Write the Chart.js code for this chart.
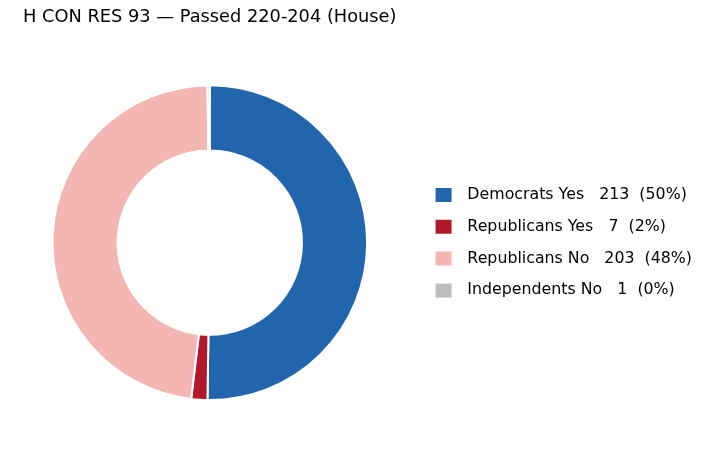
<!DOCTYPE html>
<html>
<head>
<meta charset="utf-8">
<script src="https://cdn.jsdelivr.net/npm/chart.js@4"></script>
<style>
  html, body { margin: 0; padding: 0; background: #ffffff; }
  #wrap { width: 708px; height: 450px; position: relative; }
</style>
</head>
<body>
<div id="wrap"><canvas id="c" width="708" height="450"></canvas></div>
<script>
const titleText = 'H CON RES 93 \u2014 Passed 220-204 (House)';
const categories = ['Democrats Yes', 'Republicans Yes', 'Republicans No', 'Independents No'];
const votes = [213, 7, 203, 1];
const colors = ['#2166ac', '#b2182b', '#f4b6b2', '#bdbdbd'];

const total = votes.reduce((a, b) => a + b, 0);
const FONT = "'DejaVu Sans', sans-serif";

new Chart(document.getElementById('c'), {
  type: 'doughnut',
  data: {
    labels: categories,
    datasets: [{
      data: votes,
      backgroundColor: colors,
      borderColor: '#ffffff',
      borderWidth: 2
    }]
  },
  options: {
    responsive: false,
    animation: false,
    cutout: '58.6%',
    layout: { padding: { top: 0, bottom: 49, left: 0, right: 6 } },
    plugins: {
      tooltip: { enabled: false },
      title: {
        display: true,
        fullSize: false,
        text: titleText,
        align: 'center',
        color: '#000000',
        font: { family: FONT, size: 17.8, weight: 'normal' },
        padding: { top: 7, bottom: 56 }
      },
      legend: {
        position: 'right',
        align: 'center',
        fullSize: false,
        labels: {
          color: '#111111',
          font: { family: FONT, size: 15.8 },
          boxWidth: 16,
          boxHeight: 14,
          padding: 16,
          generateLabels: (chart) => categories.map((c, i) => ({
            text: '\u2002' + c + '   ' + votes[i] + '  (' + Math.round(votes[i] / total * 100) + '%)',
            fillStyle: colors[i],
            strokeStyle: colors[i],
            lineWidth: 0,
            hidden: false,
            index: i
          }))
        }
      }
    }
  }
});
</script>
</body>
</html>
